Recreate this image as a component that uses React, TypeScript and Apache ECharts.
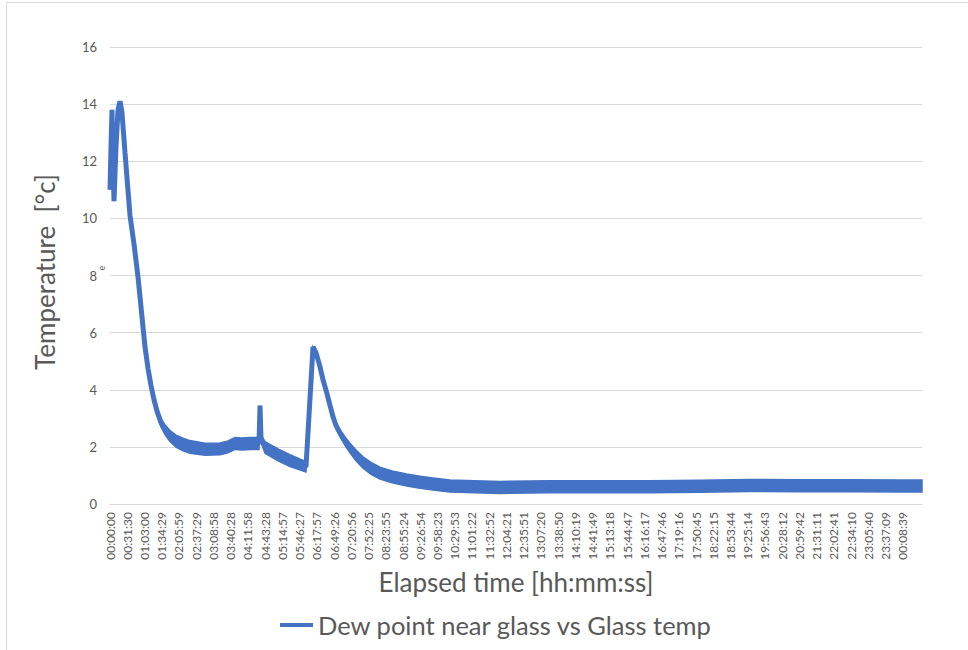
import React, { useEffect, useRef } from "react";
import * as echarts from "echarts";

// Elapsed time in hours since the start of the logging run
const ELAPSED_H = [
  0.0, 0.03, 0.061, 0.091, 0.122, 0.183, 0.244, 0.305, 0.365, 0.457,
  0.609, 0.731, 0.853, 0.944, 1.066, 1.157, 1.248, 1.34, 1.431, 1.553,
  1.675, 1.827, 2.01, 2.223, 2.436, 2.893, 3.35, 3.593, 3.806, 4.019,
  4.263, 4.537, 4.568, 4.598, 4.72, 5.116, 5.481, 5.968, 6.182, 6.273,
  6.395, 6.486, 6.599, 6.699, 6.79, 6.882, 7.004, 7.156, 7.308, 7.491,
  7.704, 7.948, 8.222, 8.587, 9.035, 9.44, 9.836, 10.353, 11.114, 11.876,
  13.398, 14.921, 16.443, 17.966, 19.488, 21.011, 22.533, 24.056, 24.726,
];

// Dew point near glass minus glass temperature [°C]
const DEW_DIFF = [
  11.0, 12.5, 13.8, 12.0, 10.6, 12.5, 13.8, 14.1, 13.7, 12.3,
  10.1, 9.1, 7.95, 6.9, 5.5, 4.75, 4.15, 3.65, 3.25, 2.85,
  2.6, 2.38, 2.2, 2.08, 2.0, 1.92, 1.93, 2.0, 2.12, 2.1,
  2.12, 2.12, 3.45, 2.3, 1.98, 1.72, 1.52, 1.3, 5.5, 5.3,
  4.8, 4.35, 3.9, 3.45, 3.06, 2.75, 2.48, 2.2, 1.96, 1.7,
  1.45, 1.25, 1.08, 0.95, 0.84, 0.76, 0.7, 0.63, 0.6, 0.58,
  0.6, 0.6, 0.6, 0.62, 0.65, 0.64, 0.64, 0.63, 0.63,
];

// Half width of the sensor scatter around each reading [°C]
const SCATTER = [
  0, 0, 0, 0, 0, 0, 0, 0, 0, 0,
  0, 0, 0, 0, 0.03, 0.05, 0.08, 0.1, 0.13, 0.15,
  0.17, 0.19, 0.21, 0.22, 0.22, 0.21, 0.21, 0.21, 0.21, 0.21,
  0.21, 0.21, 0, 0.12, 0.2, 0.21, 0.21, 0.18, 0, 0,
  0.02, 0.04, 0.05, 0.07, 0.08, 0.1, 0.12, 0.15, 0.17, 0.19,
  0.2, 0.21, 0.21, 0.21, 0.21, 0.21, 0.21, 0.21, 0.21, 0.21,
  0.21, 0.21, 0.21, 0.21, 0.21, 0.21, 0.21, 0.21, 0.21,
];

const TICK_LABELS = [
  "00:00:00", "00:31:30", "01:03:00", "01:34:29", "02:05:59", "02:37:29", "03:08:58",
  "03:40:28", "04:11:58", "04:43:28", "05:14:57", "05:46:27", "06:17:57", "06:49:26",
  "07:20:56", "07:52:25", "08:23:55", "08:55:24", "09:26:54", "09:58:23", "10:29:53",
  "11:01:22", "11:32:52", "12:04:21", "12:35:51", "13:07:20", "13:38:50", "14:10:19",
  "14:41:49", "15:13:18", "15:44:47", "16:16:17", "16:47:46", "17:19:16", "17:50:45",
  "18:22:15", "18:53:44", "19:25:14", "19:56:43", "20:28:12", "20:59:42", "21:31:11",
  "22:02:41", "22:34:10", "23:05:40", "23:37:09", "00:08:39",
];

const Y_TICKS = [0, 2, 4, 6, 8, 10, 12, 14, 16];

const SERIES_NAME = "Dew point near glass vs Glass temp";
const LINE_COLOR = "#4472C4";
const TEXT_COLOR = "#595959";
const FONT = "Lato, 'Noto Sans', sans-serif";

// One labelled category every 31 min 29.5 s
const LABEL_STEP_H = 1889.54 / 3600;
const X_MAX_H = 24.726;

export default function App() {
  const ref = useRef<HTMLDivElement>(null);

  useEffect(() => {
    if (!ref.current) return;
    const chart = echarts.init(ref.current, undefined, { renderer: "svg" });

    const line = ELAPSED_H.map((h, i) => [h, DEW_DIFF[i]]);

    chart.setOption({
      animation: false,
      backgroundColor: "#ffffff",
      textStyle: { fontFamily: FONT },
      grid: { left: 110, right: 46, top: 47, bottom: 146, containLabel: false },
      xAxis: {
        type: "value",
        min: 0,
        max: X_MAX_H,
        interval: LABEL_STEP_H,
        axisLine: { show: true, lineStyle: { color: "#d9d9d9", width: 1 } },
        axisTick: { show: false },
        splitLine: { show: false },
        axisLabel: {
          rotate: 90,
          margin: 8,
          fontSize: 12,
          color: TEXT_COLOR,
          fontFamily: FONT,
          showMaxLabel: false,
          formatter: (v: number) => {
            const i = Math.round(v / LABEL_STEP_H);
            if (Math.abs(v - i * LABEL_STEP_H) > 1e-4) return "";
            return TICK_LABELS[i] ?? "";
          },
        },
      },
      yAxis: {
        type: "value",
        min: Y_TICKS[0],
        max: Y_TICKS[Y_TICKS.length - 1],
        interval: 2,
        axisLine: { show: false },
        axisTick: { show: false },
        splitLine: { lineStyle: { color: "#d9d9d9", width: 1 } },
        axisLabel: { fontSize: 13, color: TEXT_COLOR, margin: 13, fontFamily: FONT },
      },
      legend: {
        data: [SERIES_NAME],
        left: 275,
        top: 607,
        itemWidth: 33,
        itemHeight: 4,
        itemGap: 2,
        icon: "rect",
        textStyle: { fontSize: 25.5, color: TEXT_COLOR, fontFamily: FONT },
      },
      series: [
        {
          // scatter envelope of the readings, drawn as one filled polygon
          name: "scatter-band",
          type: "custom",
          silent: true,
          z: 1,
          data: [[0, 0]],
          encode: { x: 0, y: 1 },
          renderItem: (_params: any, api: any) => {
            const upper = ELAPSED_H.map((h, i) => api.coord([h, DEW_DIFF[i] + SCATTER[i]]));
            const lower = ELAPSED_H.map((h, i) => api.coord([h, DEW_DIFF[i] - SCATTER[i]])).reverse();
            return {
              type: "polygon",
              shape: { points: upper.concat(lower) },
              style: { fill: LINE_COLOR, stroke: LINE_COLOR, lineWidth: 1.5 },
            };
          },
        },
        {
          name: SERIES_NAME,
          type: "line",
          z: 2,
          data: line,
          symbol: "none",
          lineStyle: { color: LINE_COLOR, width: 5 },
          itemStyle: { color: LINE_COLOR },
        },
      ],
      graphic: [
        { type: "line", shape: { x1: 6.5, y1: 2, x2: 6.5, y2: 650 }, style: { stroke: "#d9d9d9", lineWidth: 1 } },
        { type: "line", shape: { x1: 6, y1: 2.5, x2: 968, y2: 2.5 }, style: { stroke: "#d9d9d9", lineWidth: 1 } },
        {
          type: "text",
          x: 45,
          y: 272,
          rotation: Math.PI / 2,
          style: {
            text: "Temperature  [°c]",
            fontSize: 26,
            fill: TEXT_COLOR,
            fontFamily: FONT,
            align: "center",
            verticalAlign: "middle",
          },
        },
        {
          type: "text",
          x: 101,
          y: 268,
          rotation: Math.PI / 2,
          style: {
            text: "e",
            fontSize: 9,
            fill: TEXT_COLOR,
            fontFamily: FONT,
            align: "center",
            verticalAlign: "middle",
          },
        },
        {
          type: "text",
          x: 516,
          y: 582,
          style: {
            text: "Elapsed time [hh:mm:ss]",
            fontSize: 26,
            fill: TEXT_COLOR,
            fontFamily: FONT,
            align: "center",
            verticalAlign: "middle",
          },
        },
      ],
    });

    return () => chart.dispose();
  }, []);

  return <div ref={ref} style={{ width: 968, height: 650, position: "absolute", left: 0, top: 0 }} />;
}
